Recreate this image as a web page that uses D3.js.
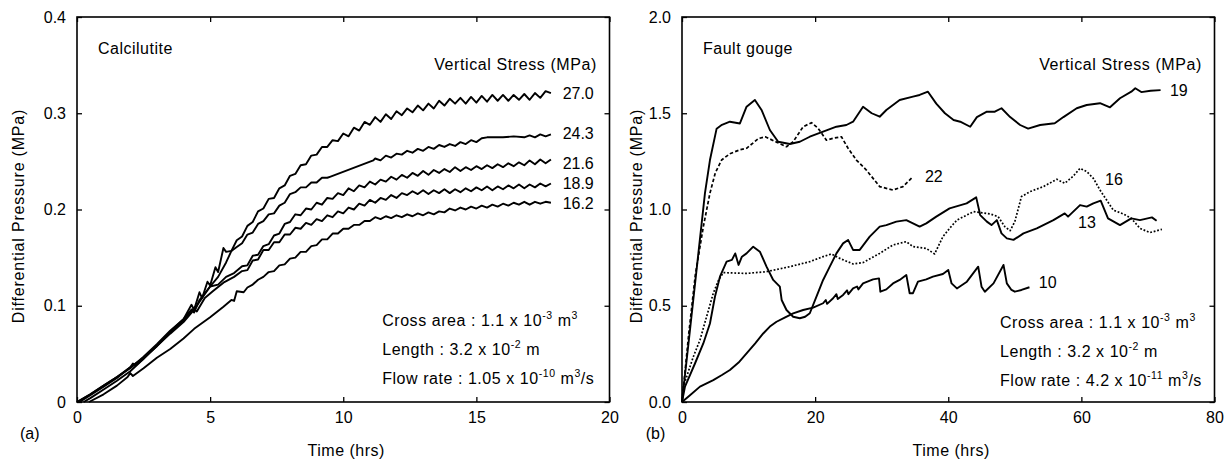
<!DOCTYPE html>
<html lang="en">
<head>
<meta charset="UTF-8"/>
<title>Differential pressure against time</title>
<script src="https://d3js.org/d3.v7.min.js"></script>
<style>
  body { margin: 0; background: #fff; }
  svg text { font-family: "Liberation Sans", Arial, sans-serif; fill: #000; }
</style>
</head>
<body>
<script>
// ---------- (a) Calcilutite : [time (hrs), differential pressure (MPa)] ----------
var calcStress = ["27.0", "24.3", "21.6", "18.9", "16.2"];
var calc270 = [[0,0],[0.5,0.008],[1,0.017],[1.5,0.026],[2,0.036],[2.5,0.046],[3,0.058],[3.5,0.072],[4,0.085],[4.3,0.095],[4.5,0.1],[4.7,0.108],[5,0.12],[5.3,0.13],[5.6,0.145],[5.8,0.157],
  [6,0.168],[6.2,0.172],[6.4,0.183],[6.6,0.187],[6.8,0.198],[7,0.201],[7.2,0.211],[7.4,0.212],[7.6,0.222],[7.8,0.225],[8,0.235],[8.2,0.237],[8.4,0.246],[8.6,0.247],[8.8,0.256],[9,0.257],[9.2,0.265],[9.4,0.265],[9.6,0.272],[9.8,0.271],
  [10,0.279],[10.2,0.276],[10.4,0.285],[10.6,0.282],[10.8,0.291],[11,0.288],[11.2,0.296],[11.4,0.291],[11.6,0.299],[11.8,0.294],[12,0.302],[12.2,0.298],[12.4,0.305],[12.6,0.301],[12.8,0.308],[13,0.303],[13.2,0.31],[13.4,0.305],[13.6,0.313],[13.8,0.308],
  [14,0.315],[14.2,0.31],[14.4,0.316],[14.6,0.31],[14.8,0.317],[15,0.311],[15.2,0.318],[15.4,0.312],[15.6,0.319],[15.8,0.313],[16,0.319],[16.2,0.313],[16.4,0.319],[16.6,0.314],[16.8,0.32],[17,0.314],[17.2,0.321],[17.4,0.316],[17.6,0.323],[17.8,0.321]];
var calc243 = [[0.1,0],[0.5,0.007],[1,0.016],[1.5,0.025],[2,0.036],[2.1,0.04],[2.2,0.038],[2.5,0.045],[3,0.059],[3.5,0.073],[4,0.086],[4.3,0.101],[4.4,0.096],[4.6,0.114],[4.7,0.108],[4.9,0.125],[5,0.121],[5.2,0.14],[5.3,0.135],[5.5,0.16],[5.6,0.156],[5.8,0.157],
  [6,0.161],[6.2,0.165],[6.4,0.174],[6.6,0.176],[6.8,0.185],[7,0.188],[7.2,0.195],[7.4,0.196],[7.6,0.204],[7.8,0.207],[8,0.216],[8.2,0.218],[8.4,0.223],[8.6,0.223],[8.8,0.228],[9,0.228],[9.2,0.233],[9.4,0.233],[9.5,0.234],[11.13,0.251],
  [11.2,0.253],[11.4,0.251],[11.6,0.256],[11.8,0.254],[12,0.258],[12.2,0.257],[12.4,0.261],[12.6,0.259],[12.8,0.263],[13,0.261],[13.2,0.265],[13.4,0.263],[13.6,0.267],[13.8,0.265],[14,0.268],[14.2,0.266],[14.4,0.27],[14.6,0.268],[14.8,0.272],[15,0.27],
  [15.2,0.274],[15.4,0.275],[15.6,0.275],[16,0.275],[16.4,0.276],[16.8,0.275],[17,0.277],[17.2,0.275],[17.4,0.278],[17.6,0.276],[17.8,0.278]];
var calc216 = [[0,0],[0.5,0.008],[1,0.017],[1.5,0.026],[2,0.035],[2.5,0.047],[3,0.06],[3.5,0.074],[4,0.086],[4.3,0.096],[4.4,0.093],[4.6,0.106],[5,0.12],[5.3,0.122],[5.6,0.13],[5.9,0.134],
  [6.2,0.141],[6.4,0.142],[6.6,0.152],[6.8,0.153],[7,0.162],[7.2,0.164],[7.4,0.173],[7.6,0.175],[7.8,0.185],[8,0.187],[8.2,0.195],[8.4,0.194],[8.6,0.201],[8.8,0.2],[9,0.207],[9.2,0.205],[9.4,0.212],[9.6,0.211],[9.8,0.217],
  [10,0.215],[10.2,0.222],[10.4,0.219],[10.6,0.225],[10.8,0.223],[11,0.229],[11.2,0.226],[11.4,0.231],[11.6,0.229],[11.8,0.234],[12,0.231],[12.2,0.236],[12.4,0.233],[12.6,0.238],[12.8,0.235],[13,0.24],[13.2,0.236],[13.4,0.241],[13.6,0.238],[13.8,0.242],
  [14,0.239],[14.2,0.244],[14.4,0.24],[14.6,0.244],[14.8,0.241],[15,0.245],[15.2,0.242],[15.4,0.246],[15.6,0.243],[15.8,0.247],[16,0.244],[16.2,0.248],[16.4,0.245],[16.6,0.249],[16.8,0.246],[17,0.251],[17.2,0.247],[17.4,0.252],[17.6,0.248],[17.8,0.252]];
var calc189 = [[0.25,0],[0.5,0.004],[1,0.013],[1.5,0.022],[2,0.032],[2.5,0.045],[3,0.058],[3.5,0.071],[4,0.083],[4.4,0.096],[4.5,0.094],[4.8,0.108],[5.1,0.115],[5.5,0.124],[5.9,0.13],
  [6.2,0.136],[6.4,0.137],[6.6,0.147],[6.8,0.148],[7,0.158],[7.2,0.158],[7.4,0.166],[7.6,0.166],[7.8,0.174],[8,0.174],[8.2,0.181],[8.4,0.18],[8.6,0.186],[8.8,0.184],[9,0.19],[9.2,0.188],[9.4,0.194],[9.6,0.192],[9.8,0.198],
  [10,0.196],[10.2,0.202],[10.4,0.2],[10.6,0.206],[10.8,0.204],[11,0.21],[11.2,0.207],[11.4,0.212],[11.6,0.21],[11.8,0.215],[12,0.212],[12.2,0.217],[12.4,0.215],[12.6,0.219],[12.8,0.216],[13,0.22],[13.2,0.216],[13.4,0.22],[13.6,0.217],[13.8,0.221],
  [14,0.217],[14.2,0.221],[14.4,0.218],[14.6,0.222],[14.8,0.219],[15,0.223],[15.2,0.22],[15.4,0.224],[15.6,0.22],[15.8,0.224],[16,0.221],[16.2,0.225],[16.4,0.222],[16.6,0.226],[16.8,0.222],[17,0.226],[17.2,0.223],[17.4,0.227],[17.6,0.224],[17.8,0.227]];
var calc162 = [[0.45,0],[1,0.008],[1.5,0.017],[1.9,0.026],[2,0.03],[2.1,0.027],[2.5,0.035],[3,0.046],[3.5,0.055],[4,0.066],[4.4,0.076],[5,0.088],[5.5,0.099],[5.8,0.106],[5.9,0.105],[6,0.115],[6.26,0.114],
  [6.4,0.119],[6.6,0.122],[6.8,0.127],[7,0.13],[7.2,0.135],[7.4,0.136],[7.6,0.142],[7.8,0.143],[8,0.149],[8.2,0.15],[8.4,0.156],[8.6,0.156],[8.8,0.162],[9,0.163],[9.2,0.169],[9.4,0.169],[9.6,0.175],[9.8,0.175],
  [10,0.18],[10.2,0.18],[10.4,0.184],[10.6,0.184],[10.8,0.188],[11,0.188],[11.2,0.192],[11.4,0.19],[11.6,0.193],[11.8,0.191],[12,0.194],[12.2,0.192],[12.4,0.195],[12.6,0.193],[12.8,0.196],[13,0.194],[13.2,0.197],[13.4,0.195],[13.6,0.198],[13.8,0.197],
  [14,0.201],[14.2,0.199],[14.4,0.202],[14.6,0.2],[14.8,0.203],[15,0.201],[15.2,0.204],[15.4,0.202],[15.6,0.205],[15.8,0.203],[16,0.206],[16.2,0.204],[16.4,0.207],[16.6,0.205],[16.8,0.208],[17,0.205],[17.2,0.208],[17.4,0.206],[17.6,0.208],[17.8,0.207]];
var calcXTicks = [0, 5, 10, 15, 20];
var calcYTicks = [0, 0.1, 0.2, 0.3, 0.4];
var calcYLabels = ["0", "0.1", "0.2", "0.3", "0.4"];
var calcNotes = [["Cross area : 1.1 x 10", "-3", " m", "3"], ["Length : 3.2 x 10", "-2", " m"], ["Flow rate : 1.05 x 10", "-10", " m", "3", "/s"]];

// ---------- (b) Fault gouge ----------
var gougeStress = ["19", "22", "16", "13", "10"];
var gouge19 = [[0,0],[1.2,0.374],[2.8,0.88],[3.45,1.085],[4.2,1.257],[5.2,1.42],[6,1.44],[7.2,1.456],[8.7,1.447],[9.7,1.534],[10.95,1.569],[11.95,1.517],[13.2,1.413],[14.45,1.352],[16.2,1.34],[17.7,1.352],[19.2,1.378],[21.2,1.404],
  [23.2,1.43],[24.7,1.439],[25.7,1.456],[27.2,1.534],[28.5,1.5],[29.7,1.482],[30.7,1.517],[32.7,1.569],[34.7,1.586],[35.7,1.595],[36.95,1.612],[38.2,1.55],[39.5,1.5],[40.8,1.465],[41.8,1.456],[43.3,1.43],[44.3,1.48],[45.8,1.508],[47,1.508],[48,1.526],
  [49.3,1.48],[50.8,1.439],[52,1.42],[53.8,1.439],[56,1.448],[57.3,1.48],[59.3,1.526],[60.8,1.543],[62.8,1.552],[64.3,1.531],[65.8,1.578],[67.5,1.612],[68.1,1.63],[69,1.61],[70.4,1.617],[71.9,1.62]];
var gouge22 = [[0,0],[1,0.35],[2,0.66],[3.2,0.91],[4.2,1.085],[5,1.19],[5.95,1.257],[7.2,1.29],[8.7,1.31],[9.7,1.318],[11.5,1.369],[12.5,1.378],[14.2,1.35],[15.7,1.326],[16.7,1.352],[18.2,1.43],[19.45,1.451],[20.45,1.422],[21.7,1.36],[22.7,1.37],[23.95,1.378],
  [24.95,1.318],[26.2,1.257],[27.7,1.205],[29.7,1.119],[31.7,1.101],[33.2,1.119],[34.7,1.17]];
var gouge16 = [[0,0],[0.2,0.08],[1.7,0.235],[2.7,0.322],[3.7,0.444],[4.7,0.565],[5.5,0.634],[6.2,0.672],[9.7,0.668],[12.7,0.677],[16.2,0.703],[19.2,0.729],[21.2,0.755],[22.45,0.769],[23.7,0.746],[25.7,0.717],[27.2,0.724],[29.7,0.772],[31.7,0.816],
  [33.7,0.833],[34.7,0.807],[36.7,0.798],[37.95,0.769],[39.2,0.859],[40.2,0.902],[41.3,0.945],[43.8,0.989],[46.3,0.977],[47.5,0.963],[48.5,0.911],[49.3,0.89],[50,0.937],[51,1.067],[52.3,1.093],[54.3,1.119],[56.3,1.157],[57.5,1.136],[58.8,1.174],
  [59.8,1.214],[60.8,1.197],[61.8,1.162],[62.8,1.101],[63.8,1.049],[64.8,0.997],[66.3,0.977],[67.5,0.954],[68.8,0.902],[70.3,0.88],[72.1,0.897]];
var gouge13 = [[0,0],[0.45,0.08],[1.95,0.2],[3.2,0.304],[4.2,0.408],[4.95,0.547],[5.7,0.651],[6.7,0.729],[7.5,0.738],[8,0.772],[8.5,0.712],[9,0.755],[9.7,0.772],[10.7,0.807],[11.7,0.781],[12.7,0.703],[13.7,0.634],[14.7,0.599],[14.97,0.53],
  [15.7,0.478],[16.7,0.443],[17.7,0.435],[18.5,0.443],[19.2,0.461],[20.2,0.547],[21.2,0.634],[22.2,0.703],[23.2,0.772],[24.2,0.824],[24.95,0.842],[25.7,0.79],[26.7,0.79],[28.2,0.859],[29.7,0.911],[30.7,0.919],[32.2,0.937],[33.7,0.945],[34.7,0.928],
  [35.7,0.911],[36.7,0.928],[38.2,0.963],[40.2,1.006],[42.76,1.032],[44.2,1.063],[44.8,0.971],[45.8,0.937],[46.5,0.919],[47.3,0.945],[48,0.876],[48.8,0.85],[49.8,0.842],[51.3,0.876],[53.3,0.902],[55.8,0.945],[57.5,0.98],[58,0.963],
  [59.8,1.023],[60.8,1.015],[61.8,1.032],[62.9,1.046],[64,0.954],[65.8,0.919],[67.5,0.954],[68.8,0.945],[70.6,0.959],[71.3,0.942]];
var gouge10 = [[0,0],[1.2,0.035],[2.7,0.08],[4.7,0.114],[6,0.14],[7.2,0.166],[8.5,0.205],[9.7,0.253],[11,0.305],[12.2,0.356],[13.2,0.392],[14.2,0.417],[15.5,0.44],[16.7,0.46],[18.2,0.478],[19.7,0.49],[21.2,0.513],[21.6,0.53],[21.8,0.51],[22.7,0.539],[23.2,0.56],[23.4,0.535],[24.2,0.556],
  [24.8,0.58],[25,0.56],[25.7,0.59],[26.3,0.6],[26.5,0.585],[27.2,0.616],[28.7,0.637],[29.6,0.642],[29.8,0.573],[30.7,0.585],[31.7,0.616],[32.7,0.634],[33.7,0.66],[34.2,0.565],[34.7,0.565],[35.45,0.625],[36.7,0.637],[37.7,0.651],
  [39.2,0.665],[40,0.686],[40.5,0.616],[41.3,0.59],[42.8,0.625],[44.5,0.703],[45,0.599],[45.5,0.573],[46.8,0.616],[48.3,0.712],[48.8,0.616],[49.5,0.582],[50,0.573],[51,0.582],[52.2,0.596]];
var gougeXTicks = [0, 20, 40, 60, 80];
var gougeYTicks = [0, 0.5, 1, 1.5, 2];
var gougeYLabels = ["0.0", "0.5", "1.0", "1.5", "2.0"];
var gougeNotes = [["Cross area : 1.1 x 10", "-3", " m", "3"], ["Length : 3.2 x 10", "-2", " m"], ["Flow rate : 4.2 x 10", "-11", " m", "3", "/s"]];

var svg = d3.select("body").append("svg")
    .attr("width", 1232)
    .attr("height", 463);

var top_ = 17, bottom = 402;

// text with alternating normal / superscript parts
function richText(g, x, y, parts) {
    var t = g.append("text").attr("x", x).attr("y", y)
        .attr("font-size", 16).attr("letter-spacing", 0.55);
    parts.forEach(function(p, i) {
        if (i % 2 == 1) {
            t.append("tspan").attr("font-size", 10.5).attr("dy", -6.5).text(p);
        } else {
            t.append("tspan").attr("dy", i == 0 ? 0 : 6.5).text(p);
        }
    });
    return t;
}

function drawPanel(p) {
    var x = d3.scaleLinear().domain(p.xDomain).range([p.left, p.right]);
    var y = d3.scaleLinear().domain(p.yDomain).range([bottom, top_]);
    var g = svg.append("g");

    var line = d3.line()
        .x(function(d){ return x(d[0]); })
        .y(function(d){ return y(d[1]); });

    p.series.forEach(function(s) {
        g.append("path")
            .datum(s.data)
            .attr("d", line)
            .attr("fill", "none")
            .attr("stroke", "#000")
            .attr("stroke-width", s.dash ? 1.7 : 1.9)
            .attr("stroke-linejoin", "round")
            .attr("stroke-dasharray", s.dash || null);
        g.append("text")
            .attr("x", x(s.label[0]))
            .attr("y", y(s.label[1]))
            .attr("font-size", 16)
            .text(s.name);
    });

    // axes, inward ticks on all four sides
    var xb = g.append("g").attr("transform", "translate(0," + bottom + ")")
        .call(d3.axisBottom(x).tickValues(p.xTicks).tickSize(-5).tickPadding(9.8).tickFormat(d3.format("d")));
    var yl = g.append("g").attr("transform", "translate(" + p.left + ",0)")
        .call(d3.axisLeft(y).tickValues(p.yTicks).tickSize(-5).tickPadding(11)
            .tickFormat(function(d, i){ return p.yLabels[i]; }));
    g.append("g").attr("transform", "translate(0," + top_ + ")")
        .call(d3.axisTop(x).tickValues(p.xTicks).tickSize(-5).tickFormat(""));
    g.append("g").attr("transform", "translate(" + p.right + ",0)")
        .call(d3.axisRight(y).tickValues(p.yTicks).tickSize(-5).tickFormat(""));
    g.selectAll(".domain").remove();
    g.selectAll(".tick line").attr("stroke", "#000").attr("stroke-width", 1.3);
    [xb, yl].forEach(function(a) {
        a.attr("font-size", 16).attr("font-family", null);
        a.selectAll("text").attr("fill", "#000");
    });

    g.append("rect")
        .attr("x", p.left).attr("y", top_)
        .attr("width", p.right - p.left).attr("height", bottom - top_)
        .attr("fill", "none").attr("stroke", "#000").attr("stroke-width", 1.6);

    // titles and notes
    g.append("text").attr("x", (p.left + p.right) / 2 + 3).attr("y", 455.5)
        .attr("text-anchor", "middle").attr("font-size", 16).attr("letter-spacing", 0.5)
        .text("Time (hrs)");
    g.append("text")
        .attr("transform", "translate(" + p.yTitleX + ",216) rotate(-90)")
        .attr("text-anchor", "middle").attr("font-size", 16).attr("letter-spacing", 0.8)
        .text("Differential Pressure (MPa)");
    g.append("text").attr("x", p.tagX).attr("y", 438.5)
        .attr("font-size", 16).text(p.tag);
    g.append("text").attr("x", p.left + 21).attr("y", 53.5)
        .attr("font-size", 16).attr("letter-spacing", 0.5).text(p.title);
    g.append("text").attr("x", p.right - 12.5).attr("y", 70)
        .attr("text-anchor", "end").attr("font-size", 16).attr("letter-spacing", 0.6)
        .text("Vertical Stress (MPa)");
    p.notes.forEach(function(n, i) {
        richText(g, p.noteX, p.noteY + i * 29.2, n);
    });
}

drawPanel({
    left: 77, right: 609.5,
    xDomain: [0, 20], yDomain: [0, 0.4],
    xTicks: calcXTicks, yTicks: calcYTicks, yLabels: calcYLabels,
    series: [
        { name: calcStress[0], data: calc270, label: [18.24, 0.3153] },
        { name: calcStress[1], data: calc243, label: [18.24, 0.2732] },
        { name: calcStress[2], data: calc216, label: [18.24, 0.2421] },
        { name: calcStress[3], data: calc189, label: [18.24, 0.2218] },
        { name: calcStress[4], data: calc162, label: [18.24, 0.2005] }
    ],
    title: "Calcilutite", tag: "(a)", tagX: 20, yTitleX: 24,
    notes: calcNotes, noteX: 382.2, noteY: 325.5
});

drawPanel({
    left: 682, right: 1214.5,
    xDomain: [0, 80], yDomain: [0, 2],
    xTicks: gougeXTicks, yTicks: gougeYTicks, yLabels: gougeYLabels,
    series: [
        { name: gougeStress[0], data: gouge19, label: [73.3, 1.59] },
        { name: gougeStress[1], data: gouge22, label: [36.5, 1.143], dash: "3.5,2.2" },
        { name: gougeStress[2], data: gouge16, label: [63.55, 1.125], dash: "1.8,1.8" },
        { name: gougeStress[3], data: gouge13, label: [59.5, 0.904] },
        { name: gougeStress[4], data: gouge10, label: [53.6, 0.592] }
    ],
    title: "Fault gouge", tag: "(b)", tagX: 645.7, yTitleX: 641.5,
    notes: gougeNotes, noteX: 1000, noteY: 327.5
});
</script>
</body>
</html>
